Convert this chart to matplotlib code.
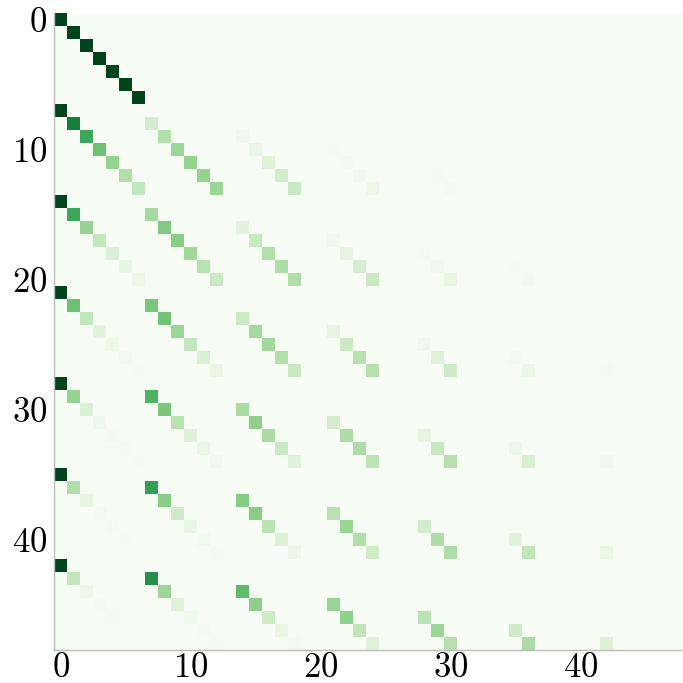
import numpy as np
import matplotlib
matplotlib.use("Agg")
import matplotlib.pyplot as plt

plt.rcParams["font.family"] = "serif"
plt.rcParams["font.serif"] = ["cmr10", "DejaVu Serif"]
plt.rcParams["mathtext.fontset"] = "cm"
plt.rcParams["axes.formatter.use_mathtext"] = True

# rows of each 7x7 block: entry c of row b sits at column b + 6*c
block_0 = [[1.0], [1.0, 0], [1.0, 0, 0], [1.0, 0, 0, 0], [1.0, 0, 0, 0, 0],
           [1.0, 0, 0, 0, 0, 0], [1.0, 0, 0, 0, 0, 0, 0]]
block_1 = [[1.0],
           [0.80, 0.20],
           [0.64, 0.32, 0.04],
           [0.512, 0.384, 0.096, 0.008],
           [0.41, 0.41, 0.154, 0.026, 0.002],
           [0.328, 0.41, 0.205, 0.051, 0.006, 0.0],
           [0.262, 0.393, 0.246, 0.082, 0.015, 0.002, 0.0]]
block_2 = [[1.0],
           [0.64, 0.36],
           [0.41, 0.461, 0.13],
           [0.262, 0.442, 0.249, 0.047],
           [0.168, 0.377, 0.318, 0.119, 0.017],
           [0.107, 0.302, 0.34, 0.191, 0.054, 0.006],
           [0.069, 0.232, 0.326, 0.245, 0.103, 0.023, 0.002]]
block_3 = [[1.0],
           [0.512, 0.488],
           [0.262, 0.50, 0.238],
           [0.134, 0.384, 0.366, 0.116],
           [0.069, 0.262, 0.374, 0.238, 0.057],
           [0.035, 0.168, 0.32, 0.305, 0.145, 0.028],
           [0.018, 0.103, 0.245, 0.312, 0.223, 0.085, 0.014]]
block_4 = [[1.0],
           [0.41, 0.59],
           [0.168, 0.484, 0.349],
           [0.069, 0.297, 0.428, 0.206],
           [0.028, 0.162, 0.351, 0.337, 0.122],
           [0.012, 0.083, 0.24, 0.345, 0.249, 0.072],
           [0.005, 0.041, 0.147, 0.283, 0.306, 0.176, 0.042]]
block_5 = [[1.0],
           [0.328, 0.672],
           [0.107, 0.441, 0.452],
           [0.035, 0.217, 0.444, 0.304],
           [0.012, 0.095, 0.291, 0.398, 0.204],
           [0.004, 0.039, 0.159, 0.326, 0.335, 0.137],
           [0.001, 0.015, 0.078, 0.214, 0.329, 0.27, 0.092]]
block_6 = [[1.0],
           [0.262, 0.738],
           [0.069, 0.387, 0.544],
           [0.018, 0.152, 0.428, 0.402],
           [0.005, 0.053, 0.224, 0.421, 0.296],
           [0.001, 0.017, 0.098, 0.276, 0.388, 0.219],
           [0.0, 0.005, 0.039, 0.145, 0.305, 0.344, 0.161]]
blocks = [block_0, block_1, block_2, block_3, block_4, block_5, block_6]

n = 49
mat = np.zeros((n, n))
for a, block in enumerate(blocks):
    for b, row in enumerate(block):
        for c, v in enumerate(row):
            mat[7 * a + b, b + 6 * c] = v

fig = plt.figure(figsize=(6.83, 6.83), dpi=100)
# the matrix runs a little past the right edge of the canvas
ax = fig.add_axes([54 / 683, 33 / 683, 637 / 683, 637 / 683])
ax.imshow(mat, cmap="Greens", vmin=0, vmax=1, aspect="auto",
          interpolation="nearest")
ax.set_xticks([0, 10, 20, 30, 40])
ax.set_yticks([0, 10, 20, 30, 40])
ax.tick_params(length=0, labelsize=25)
ax.tick_params(axis="x", pad=2)
ax.tick_params(axis="y", pad=5)
for s in ["top", "right"]:
    ax.spines[s].set_visible(False)
for s in ["left", "bottom"]:
    ax.spines[s].set_color("#bbbbbb")
    ax.spines[s].set_linewidth(1.0)

fig.savefig("out.png", dpi=100)
